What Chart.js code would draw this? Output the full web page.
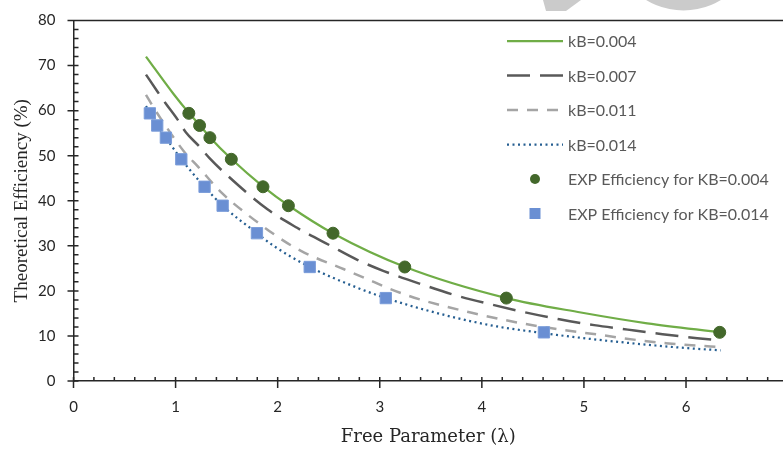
<!DOCTYPE html>
<html>
<head>
<meta charset="utf-8">
<script src="https://cdn.jsdelivr.net/npm/chart.js@4/dist/chart.umd.min.js"></script>
<style>
  html, body { margin: 0; padding: 0; background: #fff; }
  #wrap { width: 783px; height: 451px; }
</style>
</head>
<body>
<div id="wrap"><canvas id="effChart" width="783" height="451"></canvas></div>
<script>
// model curves
const kb004X = [0.71, 0.98, 1.13, 1.24, 1.34, 1.55, 1.86, 2.11, 2.54, 3.25, 4.24, 4.97, 5.62, 6.34];
const kb004Y = [72.0, 63.7, 59.5, 56.7, 54.0, 49.2, 43.1, 38.9, 32.8, 25.3, 18.4, 15.2, 12.8, 10.8];

const kb007X = [0.71, 0.82, 0.90, 1.02, 1.10, 1.23, 1.33, 1.46, 1.90, 2.19, 2.52, 2.78, 3.04, 3.43, 3.76, 4.09, 4.41, 4.76, 5.10, 5.43, 5.77, 6.11, 6.34];
const kb007Y = [68.0, 64.3, 61.7, 58.0, 55.2, 52.1, 49.5, 46.6, 38.1, 34.0, 30.0, 26.9, 24.4, 21.3, 18.9, 17.0, 15.3, 13.7, 12.4, 11.4, 10.4, 9.5, 9.0];

const kb011X = [0.71, 0.79, 0.85, 1.08, 1.23, 1.45, 1.70, 2.06, 2.26, 2.65, 2.88, 3.04, 3.27, 3.47, 3.89, 4.32, 4.74, 5.17, 5.38, 5.59, 5.80, 6.02, 6.34];
const kb011Y = [63.5, 60.5, 58.4, 51.0, 47.3, 41.8, 37.0, 31.1, 28.5, 24.8, 22.6, 21.0, 19.0, 17.6, 15.2, 13.1, 11.5, 10.2, 9.5, 8.9, 8.4, 8.0, 7.5];

const kb014X = [0.71, 0.75, 0.82, 0.905, 1.056, 1.284, 1.461, 1.797, 1.96, 2.314, 2.78, 3.059, 3.66, 4.15, 4.61, 4.96, 5.46, 5.95, 6.34];
const kb014Y = [61.0, 59.4, 56.7, 54.0, 49.2, 43.1, 38.9, 32.8, 30.0, 25.3, 20.7, 18.4, 14.5, 12.1, 10.6, 9.6, 8.4, 7.4, 6.8];

// experimental points
const expEff = [59.4, 56.7, 54.0, 49.2, 43.1, 38.9, 32.8, 25.3, 18.4, 10.8];
const exp004X = [1.13, 1.235, 1.336, 1.546, 1.856, 2.105, 2.542, 3.245, 4.24, 6.33];
const exp014X = [0.748, 0.82, 0.905, 1.056, 1.284, 1.461, 1.797, 2.314, 3.059, 4.608];

const xTicks = [0, 1, 2, 3, 4, 5, 6];
const yTicks = [0, 10, 20, 30, 40, 50, 60, 70, 80];

const axisColor = '#262626';
const toPts = (xs, ys) => xs.map((x, i) => ({ x: x, y: ys[i] }));

// grey shapes peeking in at the top edge
const topShapes = {
    id: 'topShapes',
    beforeDraw(chart) {
        const ctx = chart.ctx;
        ctx.save();
        ctx.fillStyle = '#cbcbcb';
        ctx.beginPath();
        ctx.moveTo(543, 0);
        ctx.lineTo(546, 11);
        ctx.lineTo(566, 11);
        ctx.lineTo(581, 0);
        ctx.closePath();
        ctx.fill();
        ctx.beginPath();
        ctx.arc(683.5, -61.5, 72, 0, Math.PI * 2);
        ctx.fill();
        ctx.restore();
    }
};

// tick marks (major cross the axis, minor inside) + top border
const axisMarks = {
    id: 'axisMarks',
    afterDraw(chart) {
        const { ctx, chartArea: a, scales: { x, y } } = chart;
        ctx.save();
        ctx.strokeStyle = axisColor;
        ctx.lineWidth = 1.5;
        ctx.beginPath();
        ctx.moveTo(a.left - 6, a.top);
        ctx.lineTo(a.right, a.top);
        for (let i = 0; i <= 40; i++) {
            const py = y.getPixelForValue(i * 2);
            if (i % 5 === 0) {
                ctx.moveTo(a.left - 6, py);
                ctx.lineTo(a.left + 5, py);
            } else {
                ctx.moveTo(a.left, py);
                ctx.lineTo(a.left + 5, py);
            }
        }
        for (let i = 0; i / 5 <= x.max; i++) {
            const px = x.getPixelForValue(i / 5);
            if (i % 5 === 0) {
                ctx.moveTo(px, a.bottom - 4);
                ctx.lineTo(px, a.bottom + 7);
            } else {
                ctx.moveTo(px, a.bottom);
                ctx.lineTo(px, a.bottom - 4);
            }
        }
        ctx.stroke();
        ctx.restore();
    }
};

// legend drawn inside the plot, upper right
const insideLegend = {
    id: 'insideLegend',
    afterDraw(chart) {
        const ctx = chart.ctx;
        const left = 507, top = 41, rowH = 34.5, sampleW = 56;
        ctx.save();
        ctx.font = '16px Lato';
        ctx.textBaseline = 'middle';
        ctx.fillStyle = '#595959';
        chart.data.datasets.forEach((ds, i) => {
            const yy = top + i * rowH;
            if (ds.showLine) {
                ctx.save();
                ctx.strokeStyle = ds.borderColor;
                ctx.lineWidth = ds.borderWidth;
                ctx.setLineDash(ds.borderDash || []);
                ctx.beginPath();
                ctx.moveTo(left, yy);
                ctx.lineTo(left + sampleW, yy);
                ctx.stroke();
                ctx.restore();
            } else {
                const cx = left + sampleW / 2;
                ctx.save();
                ctx.fillStyle = ds.backgroundColor;
                if (ds.pointStyle === 'rect') {
                    ctx.fillRect(cx - 5.5, yy - 5.5, 11, 11);
                } else {
                    ctx.beginPath();
                    ctx.arc(cx, yy, 5, 0, Math.PI * 2);
                    ctx.fill();
                }
                ctx.restore();
            }
            ctx.fillText(ds.label, left + sampleW + 5, yy + 1);
        });
        ctx.restore();
    }
};

const lineBase = { showLine: true, pointRadius: 0, pointHoverRadius: 0, cubicInterpolationMode: 'monotone', fill: false, order: 2 };

new Chart(document.getElementById('effChart'), {
    type: 'scatter',
    data: {
        datasets: [
            Object.assign({ label: 'kB=0.004', data: toPts(kb004X, kb004Y), borderColor: '#70AD47', borderWidth: 2.25 }, lineBase),
            Object.assign({ label: 'kB=0.007', data: toPts(kb007X, kb007Y), borderColor: '#595959', borderWidth: 2.5, borderDash: [23, 10] }, lineBase),
            Object.assign({ label: 'kB=0.011', data: toPts(kb011X, kb011Y), borderColor: '#A5A5A5', borderWidth: 2.5, borderDash: [11, 9] }, lineBase),
            Object.assign({ label: 'kB=0.014', data: toPts(kb014X, kb014Y), borderColor: '#255E91', borderWidth: 2.25, borderDash: [2, 3.5] }, lineBase),
            {
                label: 'EXP Efficiency for KB=0.004',
                data: toPts(exp004X, expEff),
                pointStyle: 'circle',
                pointRadius: 6,
                backgroundColor: '#43682B',
                borderColor: '#43682B',
                borderWidth: 1,
                order: 0
            },
            {
                label: 'EXP Efficiency for KB=0.014',
                data: toPts(exp014X, expEff),
                pointStyle: 'rect',
                pointRadius: 8,
                backgroundColor: '#6A8FD3',
                borderColor: '#7B9DDA',
                borderWidth: 1,
                order: 1
            }
        ]
    },
    options: {
        responsive: false,
        animation: false,
        layout: { autoPadding: false, padding: { top: 20.5, right: 0, bottom: 0, left: 0 } },
        plugins: {
            legend: { display: false },
            tooltip: { enabled: false }
        },
        scales: {
            x: {
                type: 'linear',
                min: 0,
                max: 6.95,
                afterBuildTicks: (s) => { s.ticks = xTicks.map(v => ({ value: v })); },
                afterFit: (s) => { s.height = 70; s.paddingLeft = 0; s.paddingRight = 0; },
                grid: { display: false, drawTicks: false },
                border: { display: true, color: axisColor, width: 1.5 },
                ticks: { padding: 17, color: axisColor, font: { family: 'Lato', size: 15 }, maxRotation: 0 },
                title: {
                    display: true,
                    text: 'Free Parameter (λ)',
                    color: axisColor,
                    font: { family: 'DejaVu Serif', size: 18 },
                    padding: { top: 0, bottom: 3 }
                }
            },
            y: {
                type: 'linear',
                min: 0,
                max: 80,
                afterBuildTicks: (s) => { s.ticks = yTicks.map(v => ({ value: v })); },
                afterFit: (s) => { s.width = 73.5; s.paddingTop = 0; s.paddingBottom = 0; },
                grid: { display: false, drawTicks: false },
                border: { display: true, color: axisColor, width: 1.5 },
                ticks: { padding: 18, color: axisColor, font: { family: 'Lato', size: 15 } },
                title: {
                    display: true,
                    text: 'Theoretical Efficiency (%)',
                    color: axisColor,
                    font: { family: 'Liberation Serif', size: 19 },
                    padding: { top: 11, bottom: 0 }
                }
            }
        }
    },
    plugins: [topShapes, axisMarks, insideLegend]
});
</script>
</body>
</html>
